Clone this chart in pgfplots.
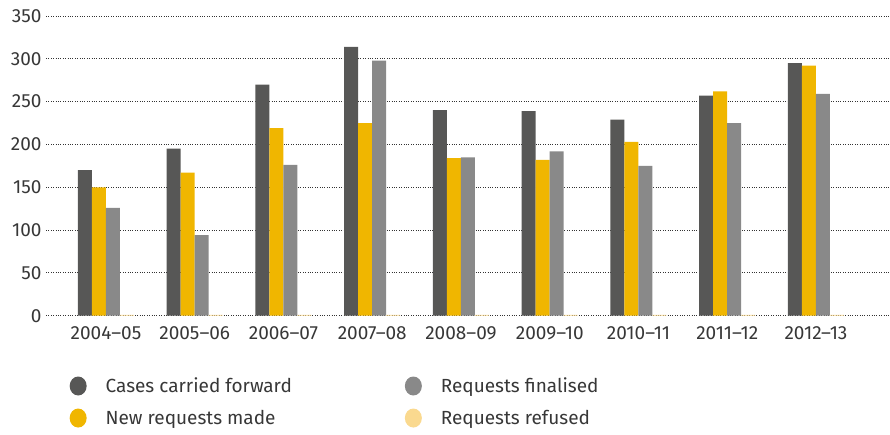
\documentclass[border=0pt]{standalone}
\usepackage{fontspec}
\setmainfont{Fira Sans}
\usepackage{pgfplots}
\pgfplotsset{compat=1.18}
\definecolor{cdark}{RGB}{87,87,86}
\definecolor{cyel}{RGB}{240,182,0}
\definecolor{cgray}{RGB}{137,137,137}
\definecolor{clight}{RGB}{250,217,143}
\definecolor{ctext}{RGB}{55,55,55}
\begin{document}
\begin{tikzpicture}
\begin{axis}[
  scale only axis, width=844pt, height=299.7pt,
  xmin=-0.676, xmax=8.834, ymin=0, ymax=350,
  ybar=0pt, bar width=14pt,
  ytick={0,50,...,350},
  xtick={0,...,8},
  xticklabels={2004--05,2005--06,2006--07,2007--08,2008--09,2009--10,2010--11,2011--12,2012--13},
  axis line style={draw=none}, major tick length=0pt,
  ymajorgrids, grid style={dotted, black!80, line width=0.8pt},
  /pgf/number format/assume math mode=true,
  tick label style={font=\fontsize{19}{22}\selectfont, text=ctext},
  xticklabel style={yshift=-7pt},
  yticklabel style={xshift=-1pt},
  legend columns=2, transpose legend,
  legend image code/.code={\fill[#1,draw=none] (8.5pt,0pt) ellipse (8.5pt and 9.5pt);},
  legend style={draw=none, fill=none, at={(0.0278,-0.2000)}, anchor=north west,
    font=\fontsize{19}{22}\selectfont, text=ctext, inner sep=0pt,
    row sep=12pt,
    /tikz/every odd column/.append style={column sep=17pt},
    /tikz/every even column/.append style={column sep=111pt}},
  legend cell align=left,
]
\addplot[fill=cdark, draw=none] coordinates {(0,170) (1,195) (2,270) (3,314) (4,240) (5,239) (6,229) (7,257) (8,295)};
\addplot[fill=cyel, draw=none] coordinates {(0,150) (1,167) (2,219) (3,225) (4,184) (5,182) (6,203) (7,262) (8,292)};
\addplot[fill=cgray, draw=none] coordinates {(0,126) (1,94) (2,176) (3,298) (4,185) (5,192) (6,175) (7,225) (8,259)};
\addplot[fill=clight, draw=none] coordinates {(0,1) (1,1) (2,1) (3,1) (4,1) (5,1) (6,1) (7,1) (8,1)};
\legend{Cases carried forward, New requests made, Requests finalised, Requests refused}
\end{axis}
\pgfresetboundingbox
\path[use as bounding box] (-46pt,-118.3pt) rectangle (844pt,315.7pt);
\end{tikzpicture}
\end{document}
